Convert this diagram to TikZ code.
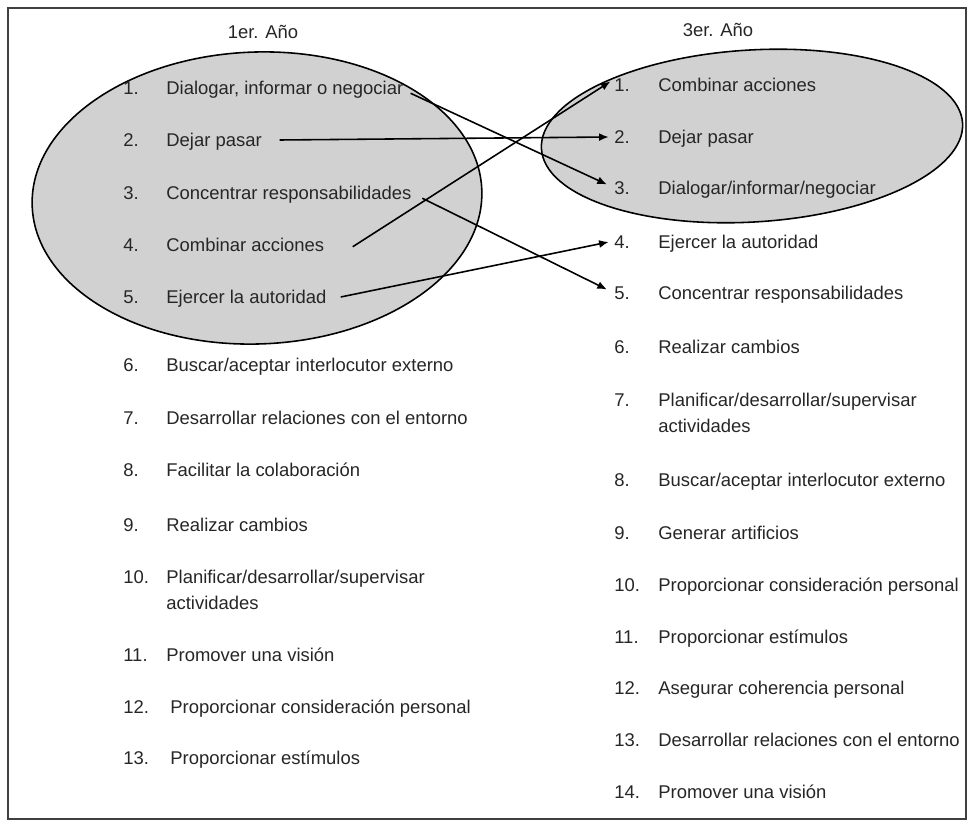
\documentclass[tikz,border=0pt]{standalone}
\usepackage{fontspec}
\setmainfont{Liberation Sans}
\usetikzlibrary{shapes,arrows.meta,positioning}

\begin{document}
\begin{tikzpicture}[
  x=0.02cm, y=-0.02cm,
  group/.style={ellipse, draw, line width=0.9pt, fill=black!18, inner sep=0pt},
  num/.style={anchor=west, inner sep=0pt, text height=7.5pt, text depth=0pt, text=black!85, font=\fontsize{10.5}{14.7}\selectfont},
  item/.style={anchor=west, inner sep=0pt, text height=7.5pt, text depth=0pt, text=black!85, font=\fontsize{10.5}{14.7}\selectfont},
  item2/.style={anchor=west, inner sep=0pt, align=left, text=black!85, font=\fontsize{10.5}{14.7}\selectfont},
  head/.style={inner sep=0pt, text=black!85, font=\fontsize{10.5}{14.7}\selectfont},
  arrow/.style={-{Latex[length=5.5pt,width=4.5pt]}, line width=0.9pt}
]
  \useasboundingbox (0,0) rectangle (968,821);

  % Frame
  \draw[black!75, line width=0.6pt] (8,8) rectangle (966,819);

  % Groups
  \node[group, minimum width=9cm, minimum height=5.84cm, rotate=2] (g1) at (257,198) {};
  \node[group, minimum width=8.44cm, minimum height=3.44cm, rotate=3.5] (g3) at (752,136) {};

  % Year headings
  \node[head] (h1) at (263,32) {1er. Año};
  \node[head] (h3) at (718,30) {3er. Año};

  % 1er. Año
  \foreach \n/\y/\x/\t in {1/88/166/{Dialogar, informar o negociar}, 2/140/166/{Dejar pasar},
      3/193/166/{Concentrar responsabilidades}, 4/245/166/{Combinar acciones},
      5/297/166/{Ejercer la autoridad}, 6/365/166/{Buscar/aceptar interlocutor externo},
      7/418/166/{Desarrollar relaciones con el entorno}, 8/470/166/{Facilitar la colaboración},
      9/525/166/{Realizar cambios}, 11/655/166/{Promover una visión},
      12/707/170/{Proporcionar consideración personal}, 13/758/170/{Proporcionar estímulos}} {
    \node[num] (l\n n) at (123,\y) {\n.};
    \node[item] (l\n) at (\x,\y) {\t};
  }
  \node[num] (l10n) at (123,577) {10.};
  \node[item2] (l10) at (166,590) {Planificar/desarrollar/supervisar\\actividades};

  % 3er. Año
  \foreach \n/\y/\t in {1/85/{Combinar acciones}, 2/137/{Dejar pasar},
      3/188/{Dialogar/informar/negociar}, 4/242/{Ejercer la autoridad},
      5/293/{Concentrar responsabilidades}, 6/347/{Realizar cambios},
      8/480/{Buscar/aceptar interlocutor externo}, 9/533/{Generar artificios},
      10/585/{Proporcionar consideración personal}, 11/637/{Proporcionar estímulos},
      12/688/{Asegurar coherencia personal}, 13/740/{Desarrollar relaciones con el entorno},
      14/792/{Promover una visión}} {
    \node[num] (r\n n) at (614,\y) {\n.};
    \node[item] (r\n) at (658,\y) {\t};
  }
  \node[num] (r7n) at (614,400) {7.};
  \node[item2] (r7) at (658,413) {Planificar/desarrollar/supervisar\\actividades};

  % Changes between years
  \draw[arrow] ([xshift=4pt,yshift=-3pt]l1.east) -- ([xshift=-4pt,yshift=2pt]r3n.west);
  \draw[arrow] ([xshift=10pt]l2.east) -- ([xshift=-3pt]r2n.west);
  \draw[arrow] ([xshift=6pt,yshift=-3pt]l3.east) -- ([xshift=-4pt,yshift=2pt]r5n.west);
  \draw[arrow] ([xshift=16pt,yshift=-1pt]l4.east) -- ([xshift=-2pt,yshift=2pt]r1n.west);
  \draw[arrow] ([xshift=8pt]l5.east) -- ([xshift=-3pt]r4n.west);
\end{tikzpicture}
\end{document}
